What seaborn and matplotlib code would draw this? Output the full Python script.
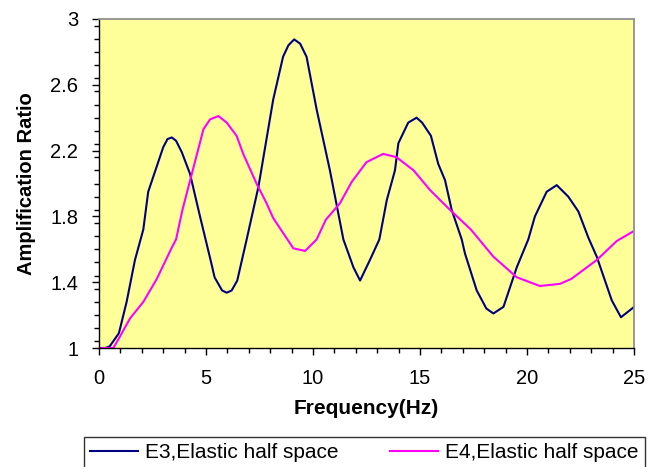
import matplotlib
matplotlib.use("Agg")
import matplotlib.pyplot as plt
from matplotlib.ticker import MultipleLocator, FuncFormatter
from matplotlib.lines import Line2D
import seaborn as sns
import pandas as pd

e3_freq = [0.0, 0.3, 0.5, 0.93, 1.29, 1.68, 2.07, 2.3, 3.0, 3.2, 3.4, 3.6, 3.87, 4.25, 4.72, 5.25,
           5.4, 5.75, 5.97, 6.2, 6.46, 6.9, 7.45, 8.14, 8.6, 8.85, 9.12, 9.4, 9.7, 10.17, 10.79,
           11.42, 11.89, 12.2, 12.66, 13.1, 13.45, 13.83, 13.99, 14.45, 14.84, 15.1, 15.51,
           15.85, 16.17, 16.48, 16.95, 17.1, 17.65, 18.1, 18.43, 18.9, 19.52, 20.06, 20.37,
           20.92, 21.39, 21.93, 22.4, 22.87, 23.26, 23.96, 24.39, 24.98]
e3_ratio = [1.0, 1.0, 1.01, 1.09, 1.28, 1.535, 1.72, 1.95, 2.22, 2.27, 2.28, 2.26, 2.19, 2.06, 1.80,
            1.515, 1.43, 1.35, 1.336, 1.35, 1.41, 1.66, 1.98, 2.51, 2.77, 2.84, 2.876, 2.85, 2.77,
            2.45, 2.08, 1.66, 1.49, 1.41, 1.535, 1.66, 1.90, 2.08, 2.245, 2.37, 2.40, 2.37, 2.29,
            2.12, 2.02, 1.84, 1.66, 1.575, 1.35, 1.24, 1.21, 1.25, 1.49, 1.66, 1.80,
            1.95, 1.99, 1.92, 1.83, 1.67, 1.555, 1.29, 1.187, 1.247]

e4_freq = [0.0, 0.67, 0.98, 1.45, 2.07, 2.7, 3.4, 3.6, 3.9, 4.2, 4.5, 4.88, 5.19, 5.58, 5.97,
           6.43, 6.74, 7.36, 7.83, 8.14, 8.6, 9.08, 9.63, 10.17, 10.6, 11.26, 11.81, 12.5,
           13.28, 13.9, 14.7, 15.47, 16.4, 17.38, 18.43, 19.52, 20.6, 21.54, 22.07, 23.26,
           24.19, 24.98]
e4_ratio = [1.0, 1.0, 1.07, 1.18, 1.28, 1.42, 1.61, 1.66, 1.84, 1.99, 2.14, 2.33, 2.39, 2.41, 2.37,
            2.29, 2.18, 2.00, 1.88, 1.79, 1.70, 1.606, 1.59, 1.66, 1.78, 1.88, 2.01, 2.13,
            2.18, 2.16, 2.08, 1.96, 1.84, 1.72, 1.555, 1.43, 1.377, 1.39, 1.42, 1.535,
            1.65, 1.71]

series_names = ["E3,Elastic half space", "E4,Elastic half space"]
y_ticks = [1, 1.4, 1.8, 2.2, 2.6, 3]
x_ticks = [0, 5, 10, 15, 20, 25]

df = pd.concat([
    pd.DataFrame({"Frequency": e3_freq, "Ratio": e3_ratio, "Series": series_names[0]}),
    pd.DataFrame({"Frequency": e4_freq, "Ratio": e4_ratio, "Series": series_names[1]}),
], ignore_index=True)

plt.rcParams["font.family"] = ["Liberation Sans", "DejaVu Sans"]

fig = plt.figure(figsize=(6.61, 4.67), dpi=100)
ax = fig.add_axes([99/661, 1 - 348/467, (634-99)/661, (348-19)/467])
ax.set_facecolor("#FFFF99")

sns.lineplot(data=df, x="Frequency", y="Ratio", hue="Series",
             palette={series_names[0]: "#000080", series_names[1]: "#FF00FF"},
             linewidth=1.5, ax=ax, sort=False, estimator=None, legend=False)

ax.set_xlim(0, 25)
ax.set_ylim(1, 3)
ax.set_xticks(x_ticks)
ax.set_yticks(y_ticks)
ax.xaxis.set_minor_locator(MultipleLocator(1))
ax.yaxis.set_minor_locator(MultipleLocator(0.08))
ax.yaxis.set_major_formatter(FuncFormatter(lambda v, p: f"{v:g}"))
ax.tick_params(which="major", direction="out", length=5, width=1, labelsize=14.5)
ax.tick_params(which="minor", direction="out", length=3.5, width=1)
ax.tick_params(axis="x", which="major", pad=10)
ax.tick_params(axis="y", which="major", pad=10)

for s in ["top", "right"]:
    ax.spines[s].set_color("#909090")
    ax.spines[s].set_linewidth(1.3)
for s in ["left", "bottom"]:
    ax.spines[s].set_color("black")
    ax.spines[s].set_linewidth(1)

ax.set_xlabel("Frequency(Hz)", fontsize=15, fontweight="bold", labelpad=8)
ax.set_ylabel("Amplification Ratio", fontsize=14.5, fontweight="bold", labelpad=10)

handles = [Line2D([], [], color="#000080", lw=1.5), Line2D([], [], color="#FF00FF", lw=1.5)]
leg = fig.legend(handles, series_names, loc="upper left", ncol=2, mode="expand",
                 bbox_to_anchor=(84/661, 1 - 437/467, 561/661, 0),
                 fontsize=15, frameon=True, fancybox=False, edgecolor="black",
                 handlelength=2.3, handletextpad=0.33, borderaxespad=0, borderpad=0.3)
leg.get_frame().set_linewidth(1)

fig.savefig("out.png", dpi=100)
